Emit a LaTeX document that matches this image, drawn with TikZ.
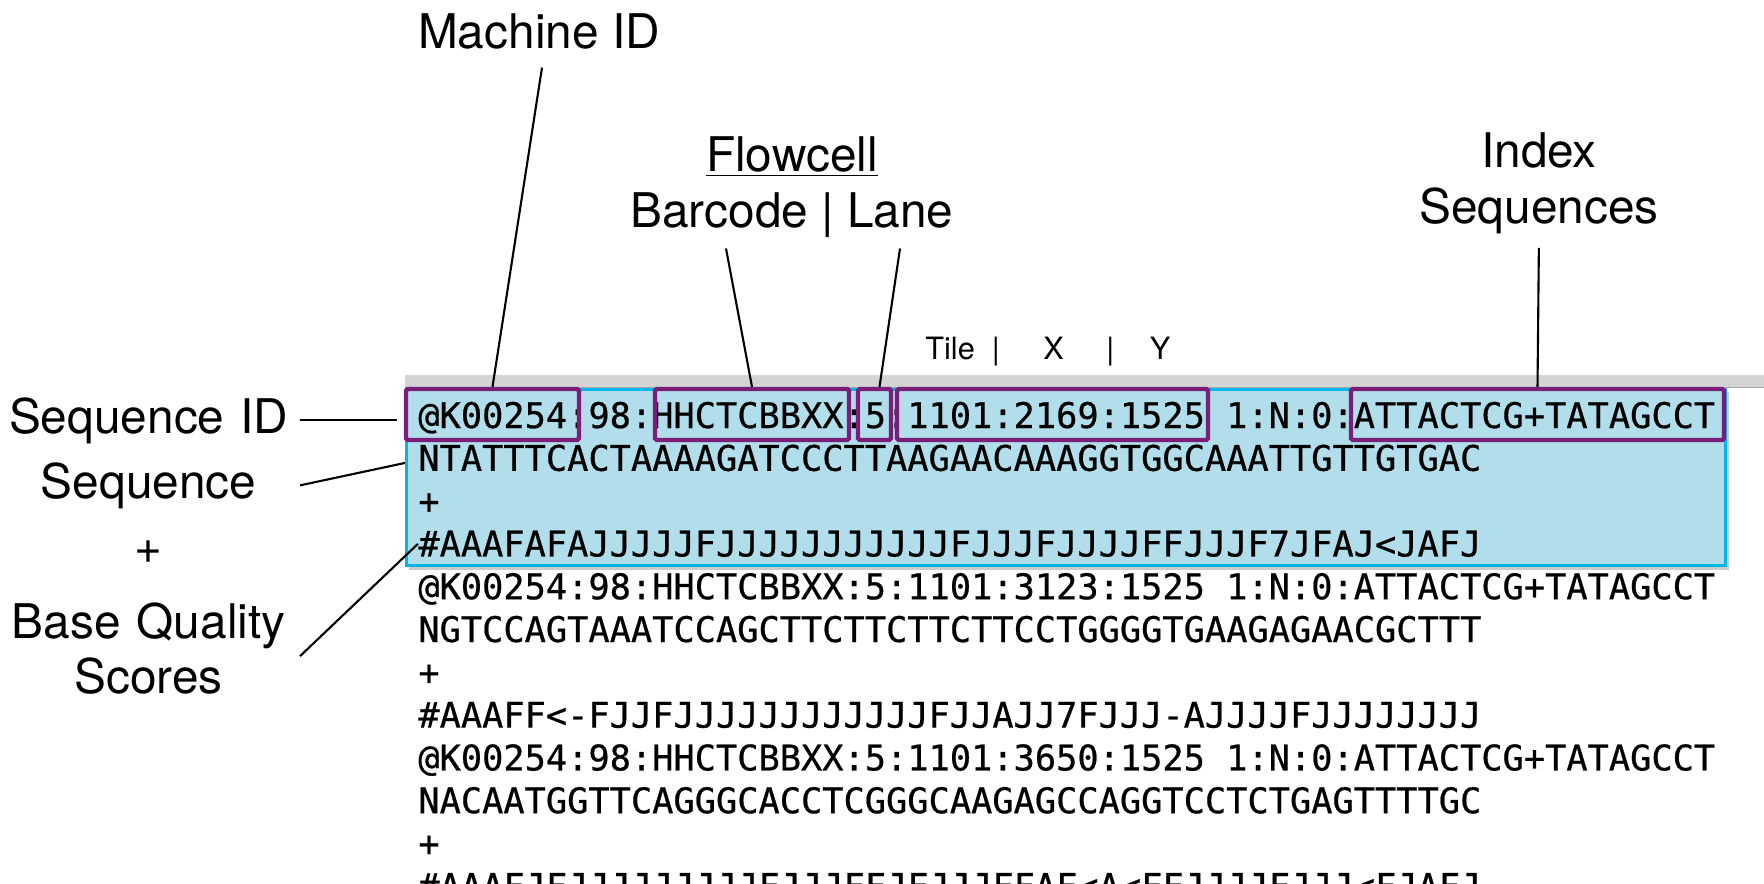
\documentclass[tikz,border=0pt]{standalone}
\usepackage{fontspec}
\setsansfont{TeX Gyre Heros}
\newfontfamily\seqfont[FakeBold=0.6]{DejaVu Sans Mono}
\usepackage{tikz}
\usetikzlibrary{calc,fit,positioning}
\definecolor{idpurple}{RGB}{122,30,122}
\definecolor{readcyan}{RGB}{0,183,235}
\definecolor{readfill}{RGB}{178,222,235}
\definecolor{bargray}{RGB}{212,212,212}

\begin{document}
\begin{tikzpicture}[x=0.02cm, y=-0.02cm,
  lbl/.style={inner sep=0pt, font=\sffamily\fontsize{27.2}{31.4}\selectfont, align=center},
  side/.style={lbl, text width=6.04cm, anchor=base east},
  small/.style={inner sep=0pt, font=\sffamily\fontsize{17.5}{20}\selectfont, anchor=base west},
  row/.style={inner sep=0pt, font=\seqfont\fontsize{20.1}{24}\selectfont, anchor=base west},
  idbox/.style={draw=idpurple, line width=2.5pt, rounded corners=1pt, inner sep=0pt},
  lead/.style={line width=1.2pt}]
\clip (0,0) rectangle (1764,883);
\fill[white] (0,0) rectangle (1764,883);
\fill[bargray] (405,375) rectangle (1764,388);
\draw[gray!70, line width=0.6pt] (405,387.5) -- (1764,387.5);
\fill[black!20] (409,392) rectangle (1729,570);
\node[fit={(406.6,389.5) (1725.3,565.3)}, inner sep=0pt, draw=readcyan, fill=readfill, line width=1.9pt] (hl) {};
\foreach \txt [count=\i] in {@K00254:98:HHCTCBBXX:5:1101:2169:1525 1:N:0:ATTACTCG+TATAGCCT,
  NTATTTCACTAAAAGATCCCTTAAGAACAAAGGTGGCAAATTGTTGTGAC, +,
  \#AAAFAFAJJJJJFJJJJJJJJJJJFJJJFJJJJFFJJJF7JFAJ<JAFJ,
  @K00254:98:HHCTCBBXX:5:1101:3123:1525 1:N:0:ATTACTCG+TATAGCCT,
  NGTCCAGTAAATCCAGCTTCTTCTTCTTCCTGGGGTGAAGAGAACGCTTT, +,
  \#AAAFF<-FJJFJJJJJJJJJJJJFJJAJJ7FJJJ-AJJJJFJJJJJJJJ,
  @K00254:98:HHCTCBBXX:5:1101:3650:1525 1:N:0:ATTACTCG+TATAGCCT,
  NACAATGGTTCAGGGCACCTCGGGCAAGAGCCAGGTCCTCTGAGTTTTGC, +,
  \#AAAFJFJJJJJJJJJFJJJFFJFJJJFFAF<A<FFJJJJFJJJ<FJAFJ}
  \node[row] (r\i) at (418,{428+42.8*(\i-1)}) {\txt};
\node[idbox, fit={(406,389) (579,440)}] (box1) {};
\node[idbox, fit={(655,389) (849,440)}] (box2) {};
\node[idbox, fit={(858,389) (891,440)}] (box3) {};
\node[idbox, fit={(897,389) (1208,440)}] (box4) {};
\node[idbox, fit={(1351,389) (1724,440)}] (box5) {};
\node[lbl, anchor=base] (mach) at (539,48.5) {Machine ID};
\node[lbl, anchor=base] (flow) at (792,227) {\underline{Flowcell}\\Barcode | Lane};
\node[lbl, anchor=base] (idx) at (1539,223) {Index\\Sequences};
\node[small] (tile) at (925,359) {Tile\hspace{0.34cm}|\hspace{0.87cm}X\hspace{0.85cm}|\hspace{0.71cm}Y};
\node[side] (sid) at (300,433) {Sequence ID};
\node[side] (seq) at (300,498) {Sequence};
\node[side] (plus) at (300,563) {+};
\node[side] (bqs) at (300,638) {Base Quality\\Scores};
\draw[lead] ($(mach.south)+(3,18)$) -- (box1.north);
\draw[lead] ($(flow.south)+(-66,11)$) -- (box2.north);
\draw[lead] ($(flow.south)+(108,11)$) -- ($(box3.north)+(5,0)$);
\draw[lead, shorten <=0.28cm] (idx.south) -- (box5.north);
\draw[lead, shorten >=0.14cm] (sid.east) -- (sid.east -| box1.west);
\draw[lead] (seq.east) -- ($(hl.west |- r2.center)+(0,5)$);
\draw[lead] ($(bqs.east)+(0,8)$) -- (r4.west);
\end{tikzpicture}
\end{document}
